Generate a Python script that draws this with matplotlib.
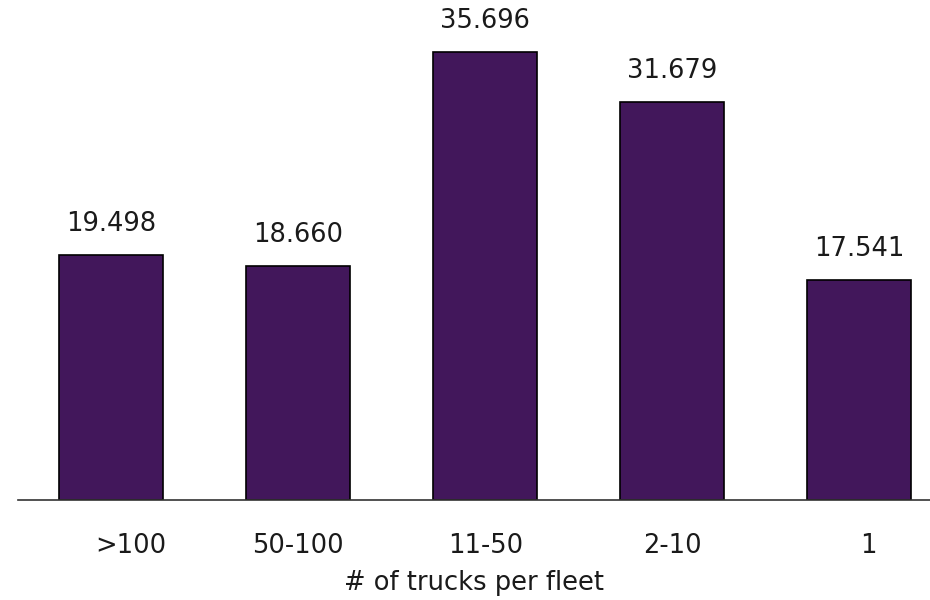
import matplotlib
matplotlib.use("Agg")
import matplotlib.pyplot as plt
import matplotlib.transforms as mtransforms
import numpy as np

categories = [">100", "50-100", "11-50", "2-10", "1"]
values = [19.498, 18.660, 35.696, 31.679, 17.541]
value_labels = ["19.498", "18.660", "35.696", "31.679", "17.541"]

BAR_COLOR = "#42175b"
TEXT_COLOR = "#1a1a1a"
FS = 18.5

fig = plt.figure(figsize=(9.3, 6.0), dpi=100)
ax = fig.add_axes([18 / 930, 100 / 600, 912 / 930, 500 / 600])

x = np.arange(len(categories))
ax.bar(x, values, width=0.556, color=BAR_COLOR, edgecolor="black", linewidth=1.2)

# value labels above each bar
for xi, v, lab in zip(x, values, value_labels):
    ax.text(xi, v + 1.45, lab, ha="center", va="bottom", fontsize=FS, color=TEXT_COLOR)

ax.set_xlim(-0.5, 4.38)
ax.set_ylim(0, 39.84)
ax.set_xticks(x)
ax.set_xticklabels(categories, fontsize=FS, color=TEXT_COLOR)
ax.tick_params(axis="x", length=0, pad=24)
ax.set_yticks([])
ax.set_xlabel("# of trucks per fleet", fontsize=FS, color=TEXT_COLOR, labelpad=8)

# the outer category labels sit a little right of their bars
shifts = {0: 19, 4: 9}
for i, lbl in enumerate(ax.get_xticklabels()):
    if i in shifts:
        off = mtransforms.ScaledTranslation(shifts[i] / 100, 0, fig.dpi_scale_trans)
        lbl.set_transform(lbl.get_transform() + off)

for side in ["top", "right", "left"]:
    ax.spines[side].set_visible(False)
ax.spines["bottom"].set_color("#333333")
ax.spines["bottom"].set_linewidth(1.2)

fig.savefig("out.png", dpi=100)
